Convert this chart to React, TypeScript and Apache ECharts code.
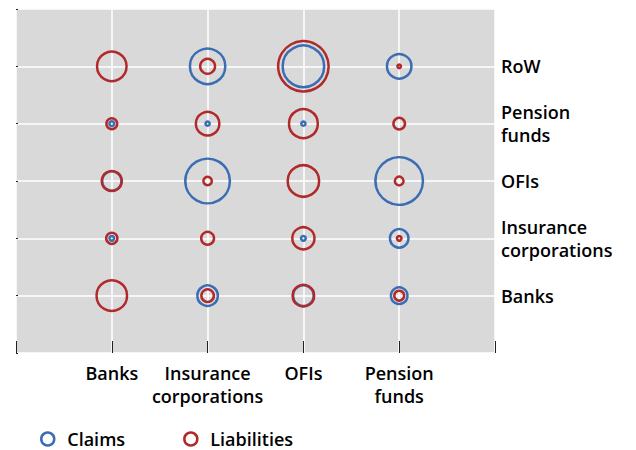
import React, { useEffect, useRef } from "react";
import * as echarts from "echarts";

// Sectors (x: holder, y: counterparty)
const xCategories = ["Banks", "Insurance\ncorporations", "OFIs", "Pension\nfunds"];
const yCategories = ["Banks", "Insurance\ncorporations", "OFIs", "Pension\nfunds", "RoW"];

// Claims by row (y category), values per x category
const claimsBanks = [0, 18.8, 19, 12.9];
const claimsInsurance = [1.8, 0, 1.9, 15.7];
const claimsOFIs = [17, 79, 0, 89];
const claimsPension = [1.9, 1.6, 1.6, 0];
const claimsRoW = [0, 51, 69, 26];

// Liabilities by row (y category), values per x category
const liabBanks = [38.8, 8, 20.5, 5.4];
const liabInsurance = [6.7, 8.4, 21.7, 1.8];
const liabOFIs = [18, 4.3, 41, 4.5];
const liabPension = [6.3, 24, 35, 7];
const liabRoW = [36.5, 10.7, 100, 1.3];

const claimsRows = [claimsBanks, claimsInsurance, claimsOFIs, claimsPension, claimsRoW];
const liabRows = [liabBanks, liabInsurance, liabOFIs, liabPension, liabRoW];

const BLUE = "#3a6db3";
const RED = "#b02a2c";
const FONT = "Open Sans";
const FW = 600;
const FS = 18;

function toPoints(rows: number[][]) {
  const pts: number[][] = [];
  rows.forEach((row, yi) => {
    row.forEach((v, xi) => {
      if (v > 0) pts.push([xi + 1, yi + 1, v]);
    });
  });
  return pts;
}

const LW = 2.5;
const sizeFn = (val: number[]) => Math.max(53 * Math.sqrt(val[2] / 100) - LW, 1.2);

export default function App() {
  const ref = useRef<HTMLDivElement>(null);
  useEffect(() => {
    if (!ref.current) return;
    const chart = echarts.init(ref.current, null, { renderer: "svg" });
    chart.setOption({
      animation: false,
      grid: {
        left: 16,
        right: 141,
        top: 9,
        bottom: 97,
        show: true,
        backgroundColor: "#d9d9d9",
        borderWidth: 0,
      },
      legend: {
        left: 40,
        top: 430,
        padding: 0,
        itemWidth: 13,
        itemHeight: 13,
        itemGap: 58,
        textStyle: { fontFamily: FONT, fontWeight: FW, fontSize: FS, lineHeight: 16, color: "#000", padding: [0, 0, 0, 8] },
        data: [
          { name: "Claims", icon: "circle", itemStyle: { color: "rgba(0,0,0,0)", borderColor: BLUE, borderWidth: 2.5 } },
          { name: "Liabilities", icon: "circle", itemStyle: { color: "rgba(0,0,0,0)", borderColor: RED, borderWidth: 2.5 } },
        ],
      },
      xAxis: {
        type: "value",
        min: 0,
        max: 5,
        interval: 1,
        axisLine: { show: false },
        axisTick: { show: true, inside: true, length: 12, lineStyle: { color: "#222", width: 1 } },
        splitLine: { show: true, lineStyle: { color: "#ffffff", width: 1.5 } },
        axisLabel: {
          margin: 8,
          fontFamily: FONT,
          fontWeight: FW,
          fontSize: FS,
          lineHeight: 23,
          color: "#000",
          formatter: (v: number) => (v >= 1 && v <= xCategories.length ? xCategories[v - 1] : ""),
        },
      },
      yAxis: {
        type: "value",
        position: "right",
        min: 0,
        max: 6,
        interval: 1,
        axisLine: { show: false },
        axisTick: { show: true, length: 2, lineStyle: { color: "#222", width: 1 } },
        splitLine: { show: true, lineStyle: { color: "#ffffff", width: 1.5 } },
        axisLabel: {
          margin: 6,
          fontFamily: FONT,
          fontWeight: FW,
          fontSize: FS,
          lineHeight: 23,
          color: "#000",
          align: "left",
          formatter: (v: number) => (v >= 1 && v <= yCategories.length ? yCategories[v - 1] : ""),
        },
      },
      series: [
        {
          name: "Claims",
          type: "scatter",
          symbol: "circle",
          data: toPoints(claimsRows),
          symbolSize: sizeFn,
          itemStyle: { color: "rgba(0,0,0,0)", borderColor: BLUE, borderWidth: LW, opacity: 1 },
          z: 2,
        },
        {
          name: "Liabilities",
          type: "scatter",
          symbol: "circle",
          data: toPoints(liabRows),
          symbolSize: sizeFn,
          itemStyle: { color: "rgba(0,0,0,0)", borderColor: RED, borderWidth: LW, opacity: 1 },
          z: 3,
        },
      ],
    });
    return () => chart.dispose();
  }, []);
  return <div ref={ref} style={{ width: 636, height: 450, marginLeft: -8, marginTop: -8 }} />;
}
